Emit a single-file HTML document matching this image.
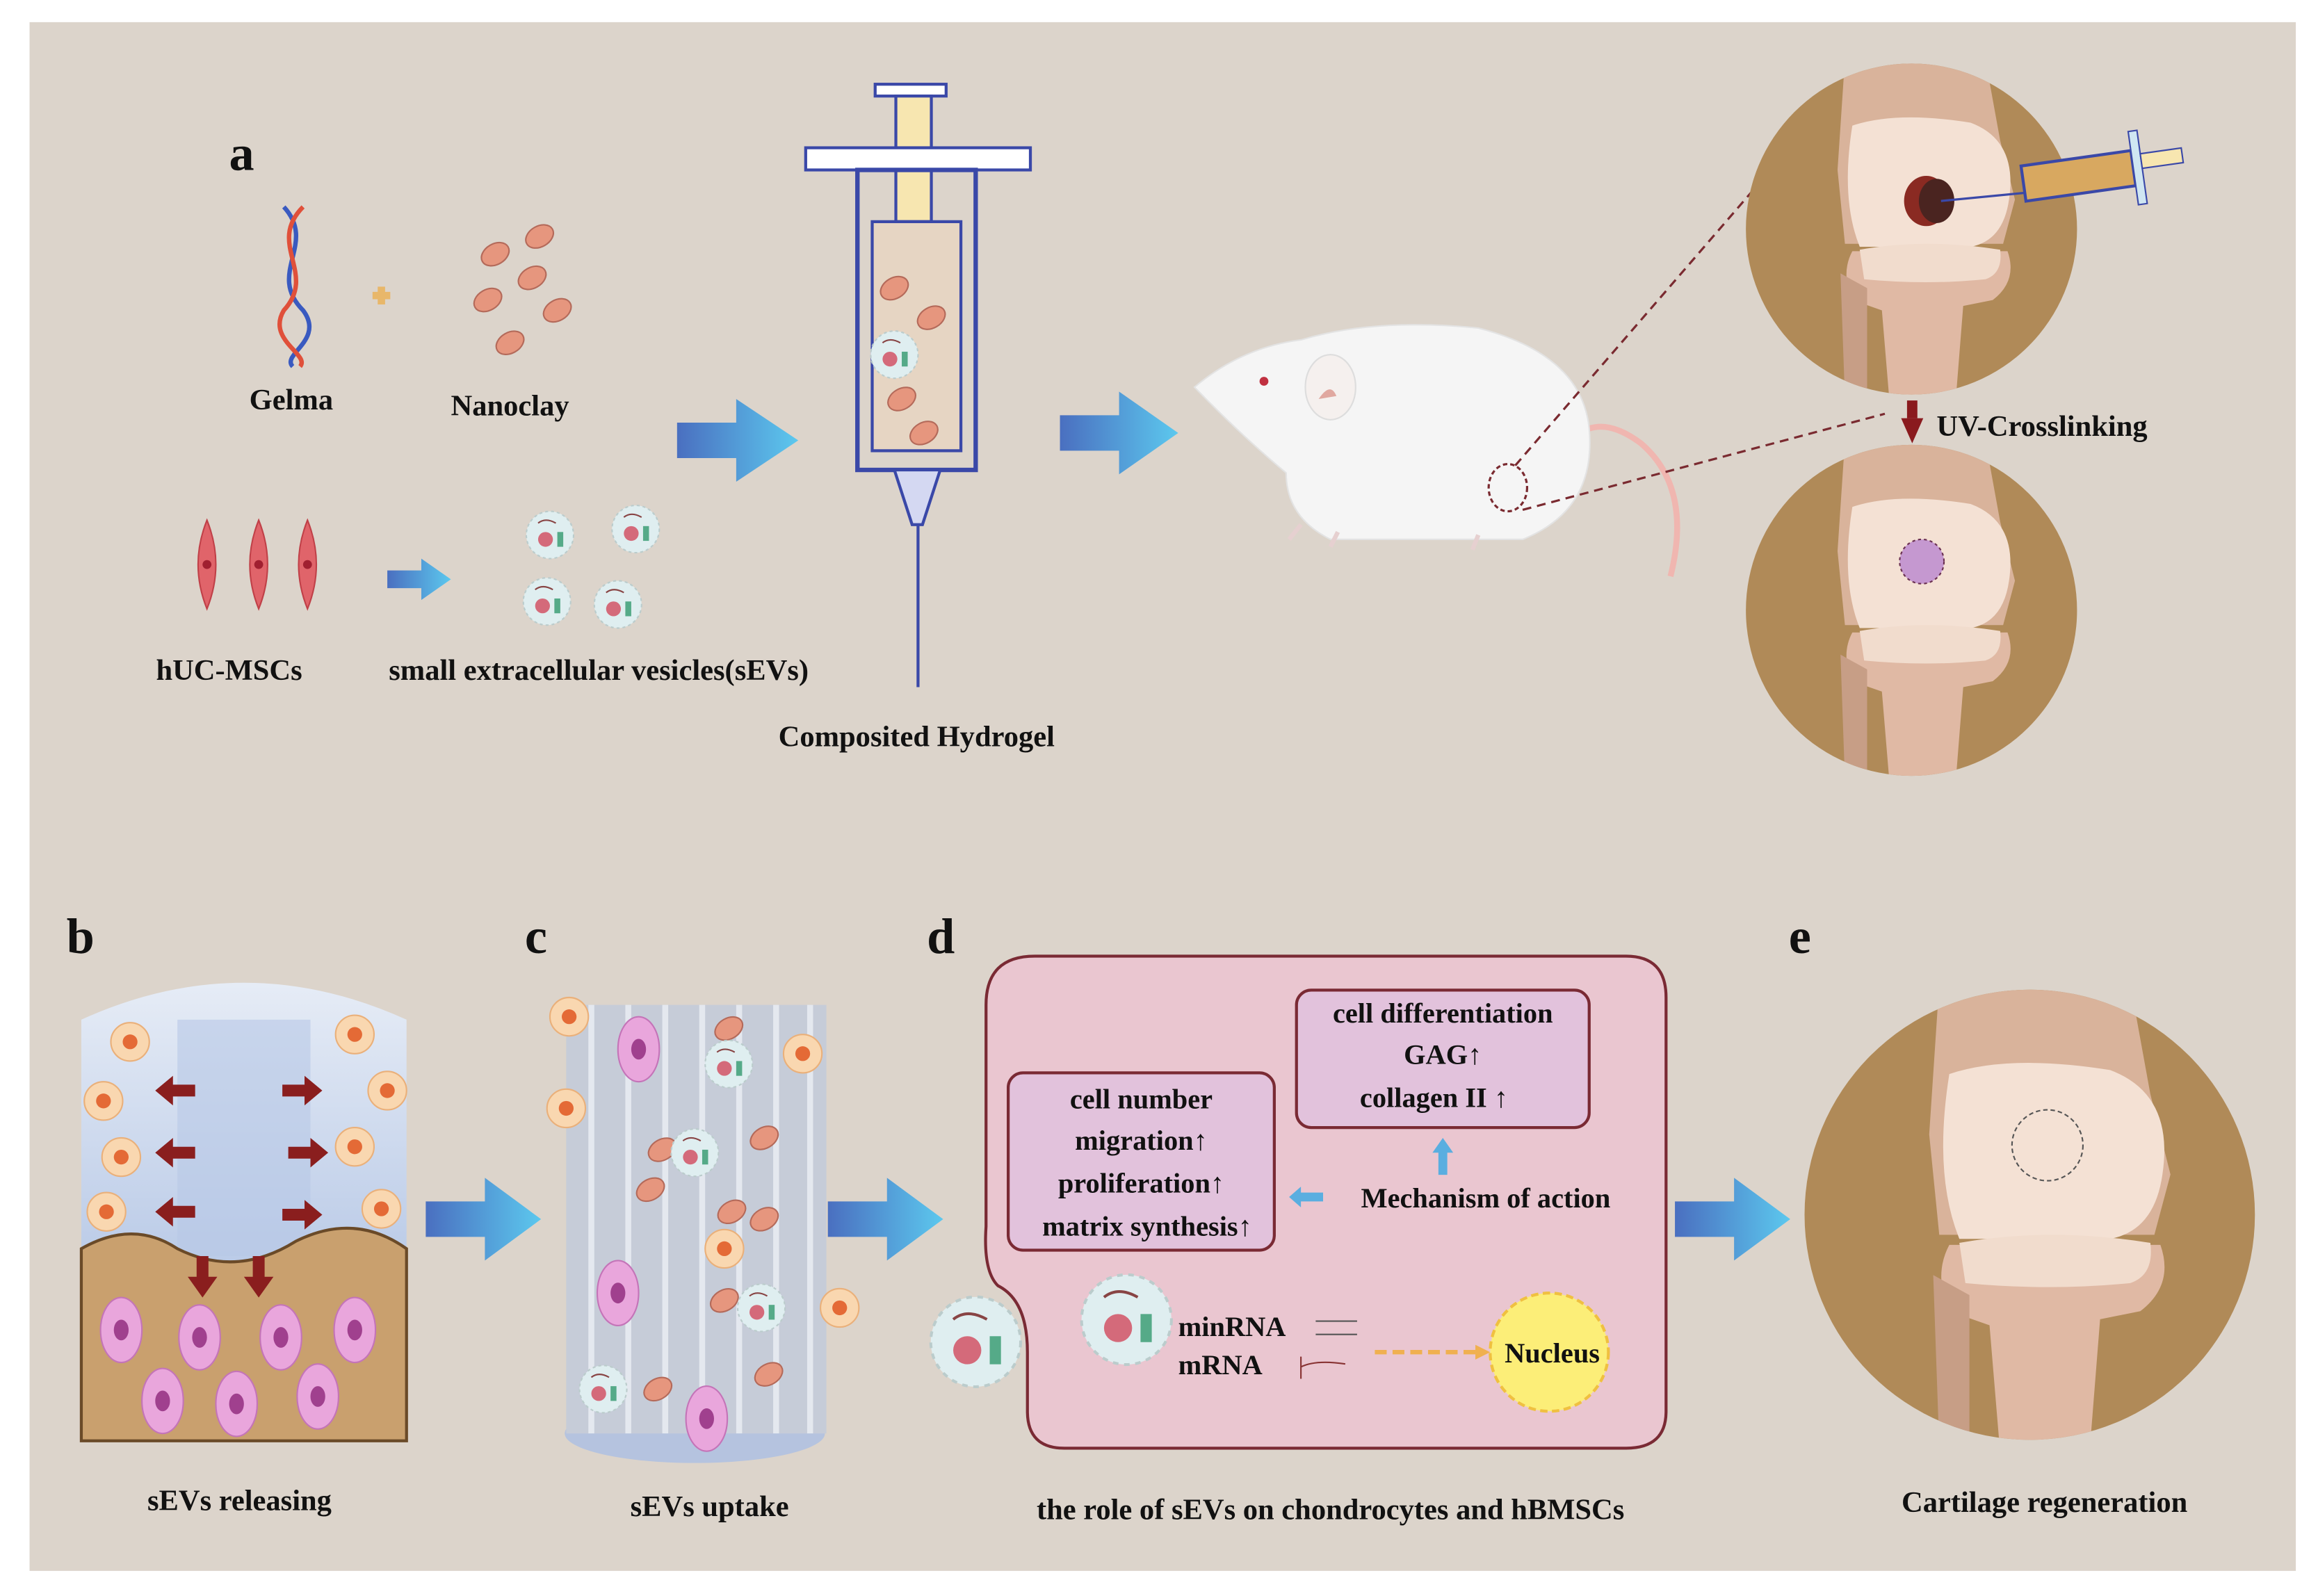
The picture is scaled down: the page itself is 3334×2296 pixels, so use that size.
<!DOCTYPE html>
<html><head><meta charset="utf-8"><style>
html,body{margin:0;padding:0;background:#fff;width:3334px;height:2296px;overflow:hidden}
svg{display:block}
text{font-family:"Liberation Serif",serif;font-weight:bold;fill:#111}
</style></head><body>
<svg width="3334" height="2296" viewBox="0 0 1568 1080" preserveAspectRatio="none" xmlns="http://www.w3.org/2000/svg">
<defs>
<linearGradient id="ar" x1="0" x2="1"><stop offset="0" stop-color="#4a6fc0"/><stop offset="1" stop-color="#5cc8ee"/></linearGradient>
<linearGradient id="bl" x1="0" y1="0" x2="0" y2="1"><stop offset="0" stop-color="#e6ecf6"/><stop offset="1" stop-color="#9fb6de"/></linearGradient>
<clipPath id="kc"><circle r="112"/></clipPath>
<g id="knee">
<circle r="112" fill="#b08a58"/>
<g clip-path="url(#kc)">
<path d="M-45,-115 L50,-115 L60,-60 L70,-20 L62,10 L-45,10 L-50,-40 Z" fill="#d9b39b"/>
<path d="M-40,-70 Q-10,-80 40,-72 Q72,-60 66,-20 Q62,8 40,12 L-35,12 Q-48,-20 -40,-70Z" fill="#f4e1d4"/>
<path d="M-40,15 L65,15 Q72,35 55,48 L35,52 L30,115 L-15,115 L-20,55 L-40,48 Q-48,30 -40,15Z" fill="#e0b9a4"/>
<path d="M-35,14 Q10,6 60,14 Q62,30 50,34 Q10,38 -32,34Z" fill="#f1dccd"/>
<path d="M-48,30 L-30,40 L-30,115 L-45,115Z" fill="#c79e86"/>
</g>
</g>
<g id="ves"><circle r="16" fill="#dfeef0" stroke="#bcc" stroke-dasharray="2 2"/><circle cx="-3" cy="3" r="5" fill="#d46a7a"/><path d="M-8,-8 q5,-4 12,0" stroke="#844" fill="none"/><rect x="5" y="-2" width="4" height="10" fill="#5a8"/></g>
<g id="rcell"><path d="M0,-30 Q12,0 0,30 Q-12,0 0,-30Z" fill="#e0646a" stroke="#c04048"/><circle r="3" fill="#a02030"/></g>
<g id="pcell"><ellipse rx="14" ry="22" fill="#e9a6dc" stroke="#c474b8"/><ellipse rx="5" ry="7" fill="#a0408e"/></g>
<g id="ocell"><circle r="13" fill="#f9d7b0" stroke="#eab07a"/><circle r="5" fill="#e46a36"/></g>
<g id="clay"><ellipse rx="10" ry="7" fill="#e6967e" stroke="#b46a5a" transform="rotate(-30)"/></g>
</defs>
<rect width="1568" height="1080" fill="#fff"/>
<rect x="20" y="15" width="1533" height="1048" fill="#dcd4cb"/>

<!-- panel a -->
<text x="155" y="115" font-size="34">a</text>
<path d="M192,140 C215,165 180,185 205,210 C220,230 190,240 198,248" stroke="#3a5ac0" stroke-width="3" fill="none"/>
<path d="M205,140 C180,165 215,185 192,210 C180,230 210,240 203,248" stroke="#e0503a" stroke-width="3" fill="none"/>
<path d="M252,200 h12 M258,194 v12" stroke="#e8b76a" stroke-width="5"/>
<use href="#clay" x="365" y="160"/><use href="#clay" x="335" y="172"/><use href="#clay" x="360" y="188"/><use href="#clay" x="330" y="203"/><use href="#clay" x="377" y="210"/><use href="#clay" x="345" y="232"/>
<text x="197" y="277" font-size="20" text-anchor="middle">Gelma</text>
<text x="345" y="281" font-size="20" text-anchor="middle">Nanoclay</text>
<use href="#rcell" x="140" y="382"/><use href="#rcell" x="175" y="382"/><use href="#rcell" x="208" y="382"/>
<polygon points="262,386 285,386 285,378 305,392 285,406 285,398 262,398" fill="url(#ar)"/>
<use href="#ves" x="372" y="362"/><use href="#ves" x="430" y="358"/><use href="#ves" x="370" y="407"/><use href="#ves" x="418" y="409"/>
<text x="155" y="460" font-size="20" text-anchor="middle">hUC-MSCs</text>
<text x="405" y="460" font-size="20" text-anchor="middle">small extracellular vesicles(sEVs)</text>
<polygon points="458,286 498,286 498,270 540,298 498,326 498,310 458,310" fill="url(#ar)"/>
<polygon points="717,281 757,281 757,265 797,293 757,321 757,305 717,305" fill="url(#ar)"/>
<!-- syringe -->
<rect x="592" y="57" width="48" height="8" fill="#fff" stroke="#3a48a8" stroke-width="2"/>
<rect x="606" y="65" width="24" height="35" fill="#f7e6b0" stroke="#3a48a8" stroke-width="2"/>
<rect x="545" y="100" width="152" height="15" fill="#fff" stroke="#3a48a8" stroke-width="2"/>
<rect x="606" y="115" width="24" height="35" fill="#f7e6b0" stroke="#3a48a8" stroke-width="2"/>
<rect x="580" y="115" width="80" height="203" fill="none" stroke="#3a48a8" stroke-width="3"/>
<rect x="590" y="150" width="60" height="155" fill="#e6d5c3" stroke="#3a48a8" stroke-width="2"/>
<use href="#clay" x="605" y="195"/><use href="#clay" x="630" y="215"/><use href="#clay" x="610" y="270"/><use href="#clay" x="625" y="293"/>
<use href="#ves" x="605" y="240"/>
<polygon points="605,318 636,318 624,355 617,355" fill="#d4d8f2" stroke="#3a48a8" stroke-width="2"/>
<line x1="621" y1="355" x2="621" y2="465" stroke="#3a48a8" stroke-width="2"/>
<text x="620" y="505" font-size="20" text-anchor="middle">Composited Hydrogel</text>
<!-- rat -->
<path d="M1130,390 Q1145,330 1110,300 Q1090,285 1075,290" stroke="#f0b6b0" stroke-width="4" fill="none"/>
<path d="M808,262 Q840,235 880,230 Q930,215 1000,222 Q1070,240 1075,290 Q1080,345 1030,365 L900,365 Q870,350 870,320 Q840,295 808,262Z" fill="#f5f5f5" stroke="#e3e3e3"/>
<path d="M880,355 l-8,10 M905,360 l-5,10 M1000,362 l-4,10" stroke="#e6d0d0" stroke-width="3"/>
<ellipse cx="900" cy="262" rx="17" ry="22" fill="#f5f0ee" stroke="#ddd"/>
<path d="M892,270 q8,-12 12,-2" fill="#e0a8a0"/>
<circle cx="855" cy="258" r="3" fill="#c03040"/>
<ellipse cx="1020" cy="330" rx="13" ry="16" fill="none" stroke="#7a2a30" stroke-dasharray="3 2" stroke-width="1.5"/>
<line x1="1025" y1="315" x2="1215" y2="95" stroke="#7a2a30" stroke-dasharray="6 4" stroke-width="1.5"/>
<line x1="1030" y1="345" x2="1275" y2="280" stroke="#7a2a30" stroke-dasharray="6 4" stroke-width="1.5"/>
<!-- knees -->
<use href="#knee" x="1293" y="155"/>
<ellipse cx="1303" cy="136" rx="15" ry="17" fill="#8a2a22"/><ellipse cx="1310" cy="136" rx="12" ry="15" fill="#4a2420"/>
<line x1="1313" y1="136" x2="1375" y2="130" stroke="#3a48a8" stroke-width="1.5"/>
<g transform="rotate(-8 1420 115)"><rect x="1368" y="105" width="75" height="24" fill="#d8a860" stroke="#3a48a8" stroke-width="2"/><rect x="1443" y="92" width="6" height="50" fill="#cfe6f2" stroke="#3a48a8"/><rect x="1449" y="108" width="28" height="10" fill="#f7e6b0" stroke="#3a48a8"/></g>
<use href="#knee" x="1293" y="413"/>
<circle cx="1300" cy="380" r="15" fill="#c598d0" stroke="#6a3050" stroke-dasharray="2 2"/>
<rect x="1290" y="271" width="7" height="12" fill="#8a1a1e"/><polygon points="1286,283 1301,283 1293.5,300" fill="#8a1a1e"/>
<text x="1310" y="295" font-size="20">UV-Crosslinking</text>

<!-- bottom labels -->
<text x="45" y="645" font-size="34">b</text>
<text x="355" y="645" font-size="34">c</text>
<text x="627" y="645" font-size="34">d</text>
<text x="1210" y="645" font-size="34">e</text>

<!-- panel b -->
<path d="M55,690 Q165,640 275,690 L275,975 L55,975Z" fill="url(#bl)"/>
<rect x="120" y="690" width="90" height="160" fill="#b8c8e6" opacity="0.6"/>
<path d="M55,845 Q90,825 120,845 Q160,865 200,840 Q240,820 275,845 L275,975 L55,975Z" fill="#c9a06e" stroke="#6a4a28" stroke-width="2"/>
<use href="#ocell" x="88" y="705"/><use href="#ocell" x="240" y="700"/><use href="#ocell" x="70" y="745"/><use href="#ocell" x="262" y="738"/><use href="#ocell" x="82" y="783"/><use href="#ocell" x="240" y="776"/><use href="#ocell" x="72" y="820"/><use href="#ocell" x="258" y="818"/>
<g fill="#8a1e1e">
<polygon points="105,738 117,728 117,734 132,734 132,742 117,742 117,748"/>
<polygon points="218,738 206,728 206,734 191,734 191,742 206,742 206,748"/>
<polygon points="105,780 117,770 117,776 132,776 132,784 117,784 117,790"/>
<polygon points="222,780 210,770 210,776 195,776 195,784 210,784 210,790"/>
<polygon points="105,820 117,810 117,816 132,816 132,824 117,824 117,830"/>
<polygon points="218,822 206,812 206,818 191,818 191,826 206,826 206,832"/>
<polygon points="137,878 127,864 133,864 133,850 141,850 141,864 147,864"/>
<polygon points="175,878 165,864 171,864 171,850 179,850 179,864 185,864"/></g>
<use href="#pcell" x="82" y="900"/><use href="#pcell" x="135" y="905"/><use href="#pcell" x="190" y="905"/><use href="#pcell" x="240" y="900"/><use href="#pcell" x="110" y="948"/><use href="#pcell" x="160" y="950"/><use href="#pcell" x="215" y="945"/>
<text x="162" y="1022" font-size="20" text-anchor="middle">sEVs releasing</text>
<polygon points="288,813 328,813 328,797 366,825 328,853 328,837 288,837" fill="url(#ar)"/>
<!-- panel c -->
<ellipse cx="470" cy="970" rx="88" ry="20" fill="#b5c3df"/>
<rect x="383" y="680" width="176" height="290" fill="#c6ccd8"/>
<g stroke="#e4e8ef" stroke-width="4"><line x1="400" y1="680" x2="400" y2="970"/><line x1="425" y1="680" x2="425" y2="970"/><line x1="450" y1="680" x2="450" y2="970"/><line x1="475" y1="680" x2="475" y2="970"/><line x1="500" y1="680" x2="500" y2="970"/><line x1="525" y1="680" x2="525" y2="970"/><line x1="548" y1="680" x2="548" y2="970"/></g>
<use href="#ocell" x="385" y="688"/><use href="#ocell" x="543" y="713"/><use href="#ocell" x="383" y="750"/><use href="#ocell" x="490" y="845"/><use href="#ocell" x="568" y="885"/>
<use href="#pcell" x="432" y="710"/><use href="#pcell" x="418" y="875"/><use href="#pcell" x="478" y="960"/>
<use href="#clay" x="493" y="696"/><use href="#clay" x="448" y="778"/><use href="#clay" x="517" y="770"/><use href="#clay" x="495" y="820"/><use href="#clay" x="440" y="805"/><use href="#clay" x="517" y="825"/><use href="#clay" x="490" y="880"/><use href="#clay" x="520" y="930"/><use href="#clay" x="445" y="940"/>
<use href="#ves" x="493" y="720"/><use href="#ves" x="470" y="780"/><use href="#ves" x="515" y="885"/><use href="#ves" x="408" y="940"/>
<text x="480" y="1026" font-size="20" text-anchor="middle">sEVs uptake</text>
<polygon points="560,813 600,813 600,797 638,825 600,853 600,837 560,837" fill="url(#ar)"/>
<!-- panel d -->
<path d="M700,647 L1100,647 Q1127,647 1127,675 L1127,955 Q1127,980 1100,980 L720,980 Q695,980 695,955 L695,915 Q695,880 675,870 Q665,860 667,830 L667,680 Q667,647 700,647Z" fill="#eac6d0" stroke="#7a2a34" stroke-width="2"/>
<rect x="877" y="670" width="198" height="93" rx="10" fill="#e2c2dc" stroke="#7a2a34" stroke-width="2"/>
<text x="976" y="692" font-size="19" text-anchor="middle">cell differentiation</text>
<text x="976" y="720" font-size="19" text-anchor="middle">GAG↑</text>
<text x="970" y="749" font-size="19" text-anchor="middle">collagen II ↑</text>
<rect x="682" y="726" width="180" height="120" rx="10" fill="#e2c2dc" stroke="#7a2a34" stroke-width="2"/>
<text x="772" y="750" font-size="19" text-anchor="middle">cell number</text>
<text x="772" y="778" font-size="19" text-anchor="middle">migration↑</text>
<text x="772" y="807" font-size="19" text-anchor="middle">proliferation↑</text>
<text x="776" y="836" font-size="19" text-anchor="middle">matrix synthesis↑</text>
<polygon points="976,770 983,780 979,780 979,795 973,795 973,780 969,780" fill="#5aaee0"/>
<polygon points="872,810 880,803 880,807 895,807 895,813 880,813 880,817" fill="#5aaee0"/>
<text x="1005" y="817" font-size="19" text-anchor="middle">Mechanism of action</text>
<use href="#ves" transform="translate(762,893) scale(1.9)"/>
<use href="#ves" transform="translate(660,908) scale(1.9)"/>
<text x="797" y="904" font-size="19">minRNA</text>
<text x="797" y="930" font-size="19">mRNA</text>
<g stroke="#555" stroke-width="1"><line x1="890" y1="894" x2="918" y2="894"/><line x1="890" y1="903" x2="918" y2="903"/></g>
<path d="M880,918 v15 M880,925 q10,-5 30,-2" stroke="#833" fill="none"/>
<line x1="930" y1="915" x2="998" y2="915" stroke="#f0b050" stroke-width="3" stroke-dasharray="8 4"/>
<polygon points="998,910 1008,915 998,920" fill="#f0b050"/>
<circle cx="1048" cy="915" r="40" fill="#fcee78" stroke="#f0c040" stroke-width="2" stroke-dasharray="5 3"/>
<text x="1050" y="922" font-size="19" text-anchor="middle">Nucleus</text>
<text x="900" y="1028" font-size="20" text-anchor="middle">the role of sEVs on chondrocytes and hBMSCs</text>
<polygon points="1133,813 1173,813 1173,797 1211,825 1173,853 1173,837 1133,837" fill="url(#ar)"/>
<!-- panel e -->
<use href="#knee" transform="translate(1373,822) scale(1.36)"/>
<circle cx="1385" cy="775" r="24" fill="none" stroke="#555" stroke-dasharray="3 2"/>
<text x="1383" y="1023" font-size="20" text-anchor="middle">Cartilage regeneration</text>
</svg>
</body></html>
